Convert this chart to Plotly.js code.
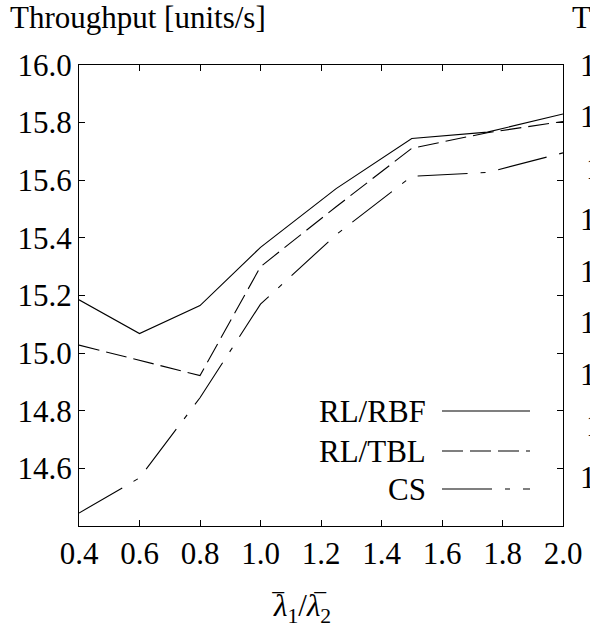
<!DOCTYPE html>
<html>
<head>
<meta charset="utf-8">
<script src="https://cdn.plot.ly/plotly-3.0.1.min.js"></script>
<style>
html,body{margin:0;padding:0;background:#fff;overflow:hidden;}
#chart{width:590px;height:630px;}
</style>
</head>
<body>
<div id="chart"></div>
<script>
// ---- data ----
const ratio = [0.4, 0.6, 0.8, 1.0, 1.25, 1.5, 1.75, 2.0];
const rlRbf = [15.185, 15.068, 15.165, 15.367, 15.571, 15.745, 15.767, 15.830];
const rlTbl = [15.028, 14.975, 14.922, 15.300, 15.508, 15.711, 15.765, 15.804];
const cs    = [14.445, 14.567, 14.845, 15.170, 15.411, 15.614, 15.627, 15.695];
const seriesNames = ['RL/RBF', 'RL/TBL', 'CS'];
const xTickVals = [0.4, 0.6, 0.8, 1.0, 1.2, 1.4, 1.6, 1.8, 2.0];
const xTickText = ['0.4', '0.6', '0.8', '1.0', '1.2', '1.4', '1.6', '1.8', '2.0'];
const yTickVals = [14.6, 14.8, 15.0, 15.2, 15.4, 15.6, 15.8, 16.0];
const yTickText = ['14.6', '14.8', '15.0', '15.2', '15.4', '15.6', '15.8', '16.0'];
const yTitle = 'Throughput [units/s]';

// ---- layout helpers ----
const W = 590, H = 630;
const M = {l: 79, r: 27, t: 65, b: 104, pad: 0};
const FONT = 'Liberation Serif';
const FS = 31;
const fx = px => (px - M.l) / (W - M.l - M.r);
const fy = py => (H - M.b - py) / (H - M.t - M.b);

const dashes = ['solid', '21px,7px', '50px,13px,5px,13px'];
const values = [rlRbf, rlTbl, cs];

const traces = values.map((v, i) => ({
  x: ratio, y: v, name: seriesNames[i], type: 'scatter', mode: 'lines',
  line: {color: 'black', width: 1.1, dash: dashes[i]},
  showlegend: false, hoverinfo: 'skip'
}));

// custom legend (text right-aligned, sample line on the right)
const legY = [411, 451, 489];
const shapes = [];
const annotations = [];
seriesNames.forEach((n, i) => {
  shapes.push({type: 'line', xref: 'paper', yref: 'paper',
    x0: fx(442), x1: fx(530), y0: fy(legY[i]), y1: fy(legY[i]),
    line: {color: 'black', width: 1.1, dash: dashes[i]}});
  annotations.push({text: n, xref: 'paper', yref: 'paper', x: fx(428), y: fy(legY[i]),
    xanchor: 'right', yanchor: 'middle', showarrow: false,
    font: {family: FONT, size: FS, color: 'black'}});
});

// x-axis title: λ̄1/λ̄2 (overbars drawn as overline glyphs above each λ)
annotations.push({text: '<i>λ</i><sub>1</sub>/<i>λ</i><sub>2</sub>', xref: 'paper', yref: 'paper',
  x: fx(302), y: fy(608), xanchor: 'center', yanchor: 'middle', showarrow: false,
  font: {family: FONT, size: FS, color: 'black'}});
[278, 320].forEach(px => {
  annotations.push({text: '‾', xref: 'paper', yref: 'paper', x: fx(px), y: fy(606),
    xanchor: 'center', yanchor: 'middle', showarrow: false,
    font: {family: FONT, size: FS, color: 'black'}});
});

// neighbouring panel (cut off at the right edge of the picture)
annotations.push({text: yTitle, xref: 'paper', yref: 'paper', x: fx(570), y: fy(17),
  xanchor: 'left', yanchor: 'middle', showarrow: false,
  font: {family: FONT, size: FS, color: 'black'}});
const nbRows = [65, 116.5, 168, 219.5, 271, 322.5, 374, 425.5, 477];
const nbShift = [0, 0, 6, 0, 0, 0, 0, 6, 0];
nbRows.forEach((r, i) => {
  annotations.push({text: '1', xref: 'paper', yref: 'paper', x: fx(578 + nbShift[i]), y: fy(r),
    xanchor: 'left', yanchor: 'middle', showarrow: false,
    font: {family: FONT, size: FS, color: 'black'}});
});

const axisCommon = {
  showgrid: false, zeroline: false, showline: true, linecolor: 'black', linewidth: 1,
  mirror: 'ticks', ticks: 'inside', ticklen: 6, tickcolor: 'black', tickwidth: 1,
  tickfont: {family: FONT, size: FS, color: 'black'}, tickmode: 'array'
};

const layout = {
  width: W, height: H, margin: M,
  paper_bgcolor: 'white', plot_bgcolor: 'white',
  showlegend: false,
  font: {family: FONT, color: 'black'},
  title: {text: yTitle, xref: 'container', yref: 'container',
    x: 10 / W, xanchor: 'left', y: 1 - 17 / H, yanchor: 'middle',
    font: {family: FONT, size: FS, color: 'black'}},
  xaxis: Object.assign({}, axisCommon, {range: [0.4, 2.0], tickvals: xTickVals, ticktext: xTickText}),
  yaxis: Object.assign({}, axisCommon, {range: [14.4, 16.0], tickvals: yTickVals, ticktext: yTickText}),
  shapes: shapes,
  annotations: annotations
};

Plotly.newPlot('chart', traces, layout, {staticPlot: true, displayModeBar: false});
</script>
</body>
</html>
